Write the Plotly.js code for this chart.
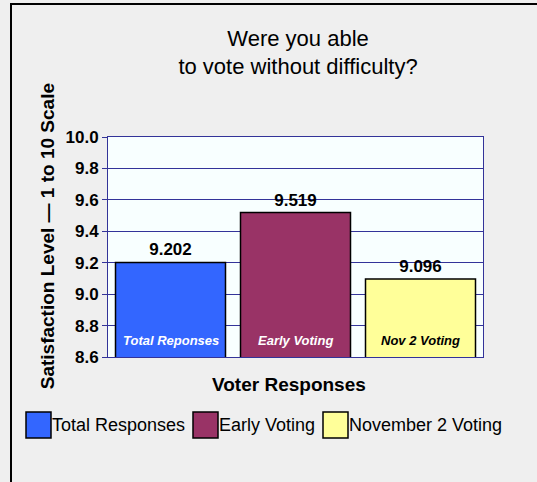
<!DOCTYPE html>
<html><head><meta charset="utf-8">
<script src="https://cdn.plot.ly/plotly-3.0.1.min.js"></script>
<style>html,body{margin:0;padding:0;background:#efefef;}#chart{width:537px;height:482px;}</style>
</head><body><div id="chart"></div>
<script>
var categories = ["Total Responses", "Early Voting", "November 2 Voting"];
var barLabels = ["Total Reponses", "Early Voting", "Nov 2 Voting"];
var values = [9.202, 9.519, 9.096];
var valueText = ["9.202", "9.519", "9.096"];
var colors = ["#3366ff", "#993366", "#ffff99"];
var labelColors = ["#ffffff", "#ffffff", "#000000"];
var yTicks = [8.6, 8.8, 9.0, 9.2, 9.4, 9.6, 9.8, 10.0];

var FONT = "Liberation Sans, Arial, sans-serif";
var navy = "#333399";

var trace = {
  type: "bar",
  x: categories,
  y: values,
  marker: {color: colors, line: {color: "#000000", width: 1.5}},
  text: valueText.map(function(t){return "<b>" + t + "</b>";}),
  textposition: "outside",
  cliponaxis: false,
  textfont: {family: FONT, size: 17, color: "#000"},
  showlegend: false,
  hoverinfo: "skip"
};

var annotations = [];
categories.forEach(function(c, i){
  annotations.push({x: c, y: 8.6, xref: "x", yref: "y", yanchor: "bottom", yshift: 7,
    text: "<i><b>" + barLabels[i] + "</b></i>", showarrow: false,
    font: {family: FONT, size: 13, color: labelColors[i]}});
});
annotations.push({xref: "paper", yref: "paper", x: -0.162, xanchor: "center", y: 0.5, yanchor: "middle", yshift: 11, textangle: -90,
  text: "<b>Satisfaction Level \u2014 1 to 10 Scale</b>", showarrow: false,
  font: {family: FONT, size: 19, color: "#000"}});
annotations.push({xref: "paper", yref: "paper", x: 0.5, xanchor: "center", xshift: -7, y: 0, yanchor: "middle", yshift: -27,
  text: "<b>Voter Responses</b>", showarrow: false,
  font: {family: FONT, size: 19, color: "#000"}});

// custom legend (frame + swatches + labels)
var shapes = [{type: "rect", xref: "paper", yref: "paper", xsizemode: "pixel", ysizemode: "pixel",
  xanchor: 0, yanchor: 1, x0: -97, x1: 460, y0: 133, y1: -400, line: {color: "#000", width: 2}, fillcolor: "rgba(0,0,0,0)", layer: "below"}];
var legX = [26, 193, 323];
categories.forEach(function(c, i){
  shapes.push({type: "rect", xref: "paper", yref: "paper", xsizemode: "pixel", ysizemode: "pixel",
    xanchor: 0, yanchor: 0, x0: legX[i] - 108, x1: legX[i] - 108 + 25, y0: -55, y1: -81,
    line: {color: "#000", width: 1.5}, fillcolor: colors[i]});
  annotations.push({xref: "paper", yref: "paper", x: 0, y: 0, xanchor: "left", yanchor: "middle",
    xshift: legX[i] - 108 + 24, yshift: -68, text: c, showarrow: false,
    font: {family: FONT, size: 18, color: "#000"}});
});

var layout = {
  width: 537, height: 482,
  paper_bgcolor: "#efefef",
  plot_bgcolor: "#f8ffff",
  margin: {l: 108, r: 54, t: 137, b: 125},
  title: {text: "Were you able<br>to vote without difficulty?", x: 0.555, xanchor: "center", y: 0.905, yanchor: "top",
    font: {family: FONT, size: 22, color: "#000"}},
  bargap: 0.12,
  xaxis: {showticklabels: false, ticks: "", showgrid: false, zeroline: false,
    showline: true, linecolor: navy, linewidth: 1, mirror: true},
  yaxis: {range: [8.6, 10.0], tickvals: yTicks, ticktext: yTicks.map(function(t){return "<b>" + t.toFixed(1) + "</b>";}),
    ticks: "outside", ticklen: 5, tickcolor: navy, tickwidth: 1,
    showgrid: true, gridcolor: navy, gridwidth: 1, zeroline: false,
    showline: true, linecolor: navy, linewidth: 1, mirror: true,
    tickfont: {family: FONT, size: 17, color: "#000"}},
  annotations: annotations,
  shapes: shapes
};
Plotly.newPlot("chart", [trace], layout, {displayModeBar: false, staticPlot: true});
</script></body></html>
